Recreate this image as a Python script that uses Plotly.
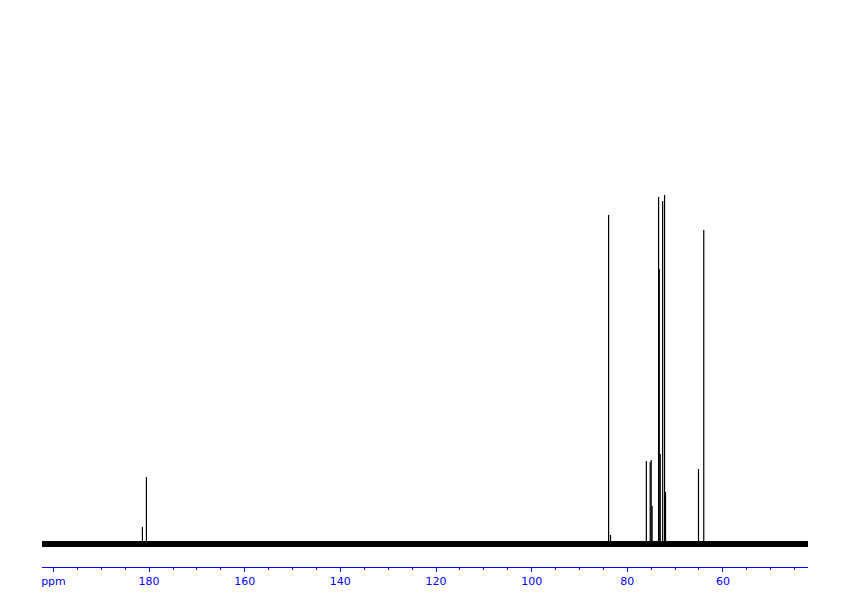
import plotly.graph_objects as go

# 13C NMR peak list (ppm, relative intensity)
peak_ppm = [181.4, 180.56, 83.9, 83.5, 76.0, 75.2, 75.0, 74.8, 73.45, 73.3, 73.1, 72.6, 72.2, 72.0, 65.1, 64.0]
peak_int = [17, 67, 329, 9, 83, 82, 84, 38, 347, 275, 90, 343, 349, 52, 75, 314]

tick_vals = [200, 180, 160, 140, 120, 100, 80, 60]
tick_text = ["ppm", "180", "160", "140", "120", "100", "80", "60"]

x_range = [202.4, 42.2]
baseline_level = 0

# stick spectrum built from the peak list
xs, ys = [], []
for p, h in zip(peak_ppm, peak_int):
    xs += [p, p, None]
    ys += [baseline_level, h, None]

fig = go.Figure()
fig.add_trace(go.Scatter(
    x=x_range, y=[baseline_level, baseline_level], mode="lines",
    line=dict(color="black", width=6), hoverinfo="skip", showlegend=False))
fig.add_trace(go.Scatter(
    x=xs, y=ys, mode="lines", line=dict(color="black", width=1.2),
    showlegend=False))

blue = "#0000ff"
fig.update_layout(
    width=834, height=588,
    margin=dict(l=34, r=34, t=12, b=29, autoexpand=False),
    paper_bgcolor="white", plot_bgcolor="white",
    showlegend=False,
    xaxis=dict(
        range=x_range, showgrid=False, zeroline=False, automargin=False,
        showline=True, linecolor=blue, linewidth=1,
        tickmode="array", tickvals=tick_vals, ticktext=tick_text,
        ticks="outside", ticklen=4, tickcolor=blue, tickwidth=1,
        tickfont=dict(family="DejaVu Sans", size=11, color=blue),
        minor=dict(dtick=5, tick0=0, ticks="outside", ticklen=2,
                   tickcolor=blue, tickwidth=1, showgrid=False),
    ),
    yaxis=dict(range=[-23, 524], visible=False, showgrid=False, zeroline=False,
               automargin=False),
)

fig.write_html("out.html")
